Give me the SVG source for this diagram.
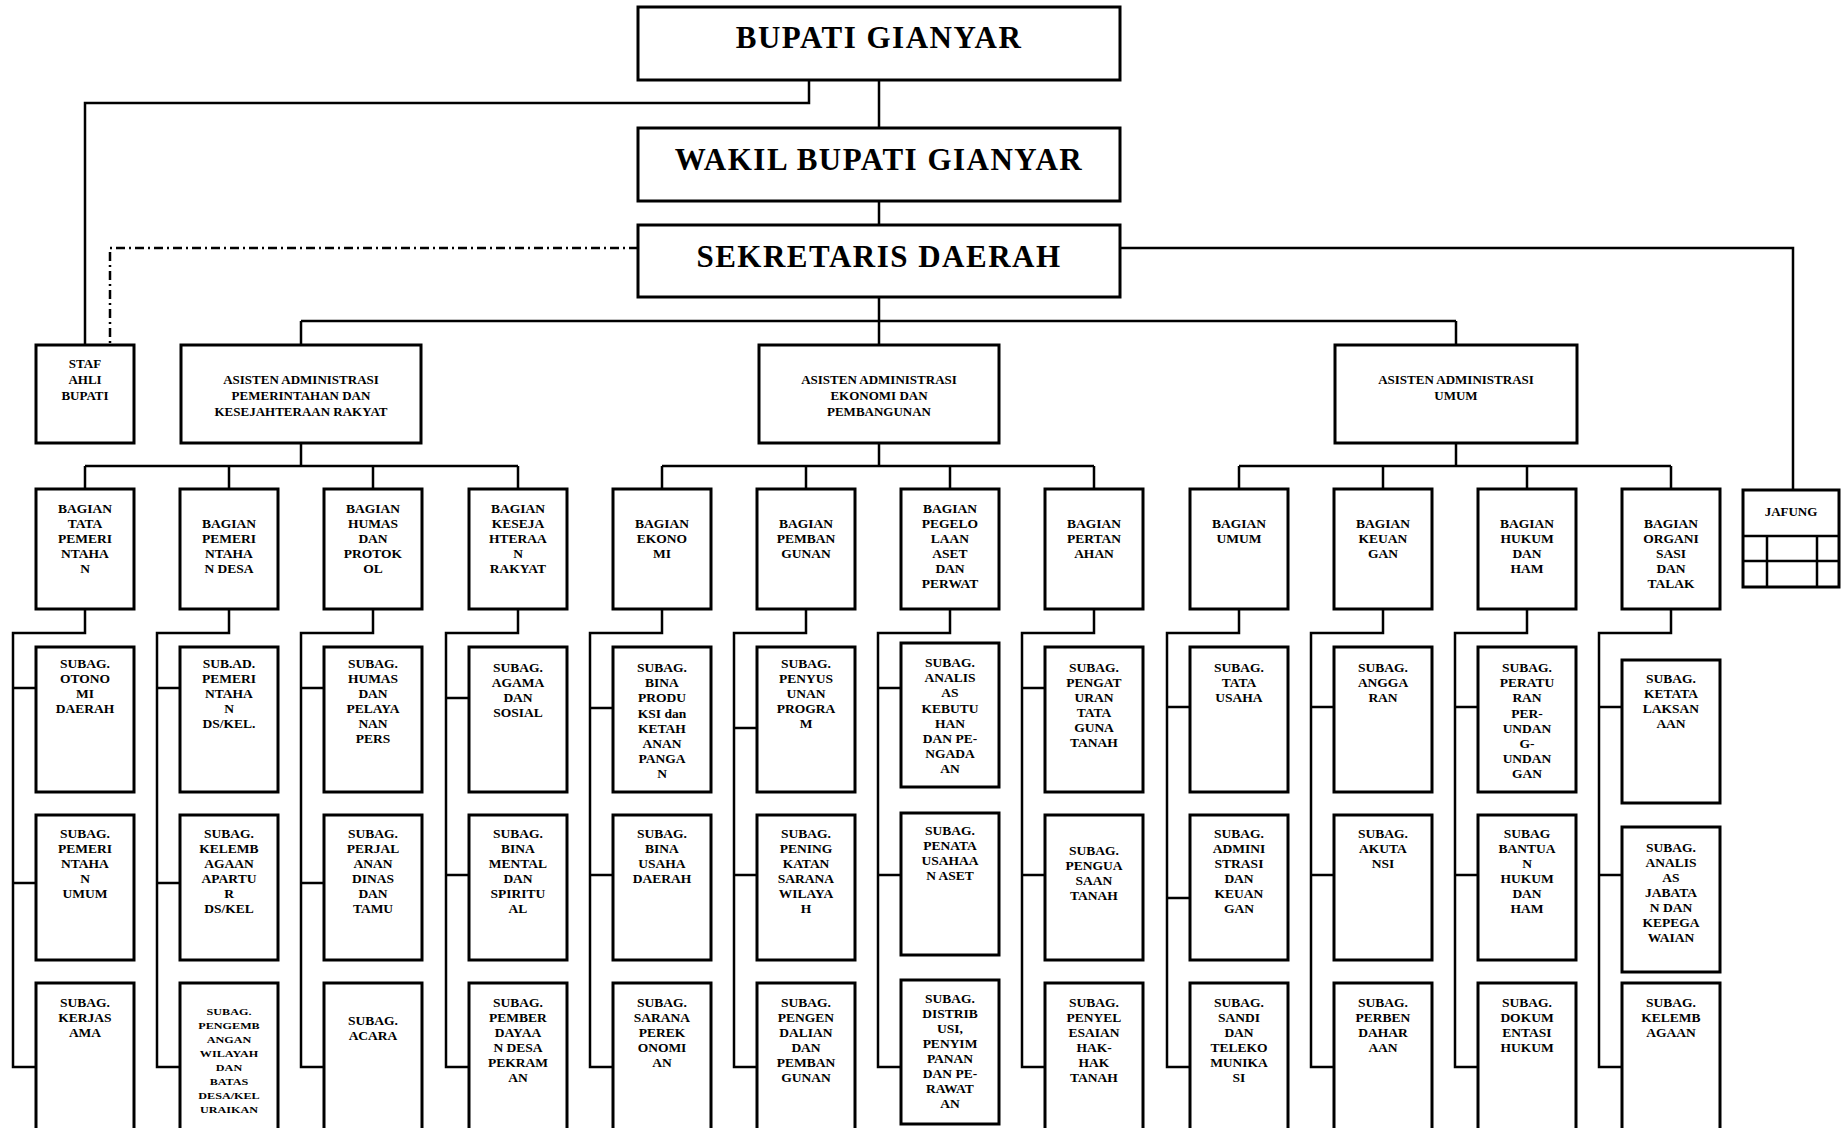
<svg xmlns="http://www.w3.org/2000/svg" width="1841" height="1128" viewBox="0 0 1841 1128">
<style>
.box{fill:#fff;stroke:#000;stroke-width:3}
.ln{fill:none;stroke:#000;stroke-width:2.5}
.dd{fill:none;stroke:#000;stroke-width:2.5;stroke-dasharray:9 4 2 4}
.t{font-family:"Liberation Serif","Times New Roman",serif;font-weight:bold;text-anchor:middle;fill:#000;font-size:13.5px}
.big{font-size:31px;letter-spacing:1.5px}
.s13{font-size:13px}
.sm{font-size:9px}
</style>
<rect width="1841" height="1128" fill="#fff"/>
<g id="connectors">
<path class="ln" d="M879 80V128M879 201V225M879 297V321M301 321H1456M301 321V345M879 321V345M1456 321V345"/>
<path class="ln" d="M809 80V103H85V345"/>
<path class="dd" d="M638 248H110V345"/>
<path class="ln" d="M1120 248H1793V490"/>
<path class="ln" d="M301 443V466M85 466H518M85 466V489M229 466V489M373 466V489M518 466V489"/>
<path class="ln" d="M879 443V466M662 466H1094M662 466V489M806 466V489M950 466V489M1094 466V489"/>
<path class="ln" d="M1456 443V466M1239 466H1671M1239 466V489M1383 466V489M1527 466V489M1671 466V489"/>
<path class="ln" d="M85 609V633H13V1067H36M13 688H36M13 883H36"/>
<path class="ln" d="M229 609V633H157V1067H180M157 688H180M157 883H180"/>
<path class="ln" d="M373 609V633H301V1067H324M301 688H324M301 883H324"/>
<path class="ln" d="M518 609V633H446V1067H469M446 698H469M446 875H469"/>
<path class="ln" d="M662 609V633H590V1067H613M590 708H613M590 875H613"/>
<path class="ln" d="M806 609V633H734V1067H757M734 728H757M734 875H757"/>
<path class="ln" d="M950 609V633H878V1067H901M878 688H901M878 875H901"/>
<path class="ln" d="M1094 609V633H1022V1067H1045M1022 688H1045M1022 875H1045"/>
<path class="ln" d="M1239 609V633H1167V1067H1190M1167 707H1190M1167 898H1190"/>
<path class="ln" d="M1383 609V633H1311V1067H1334M1311 707H1334M1311 875H1334"/>
<path class="ln" d="M1527 609V633H1455V1067H1478M1455 707H1478M1455 875H1478"/>
<path class="ln" d="M1671 609V633H1599V1067H1622M1599 707H1622M1599 875H1622"/>
</g>

<g id="bupati"><rect class="box" x="638" y="7" width="482" height="73"/><text class="t big" x="879" y="48">BUPATI GIANYAR</text></g>
<g id="wakil"><rect class="box" x="638" y="128" width="482" height="73"/><text class="t big" x="879" y="170">WAKIL BUPATI GIANYAR</text></g>
<g id="sekda"><rect class="box" x="638" y="225" width="482" height="72"/><text class="t big" x="879" y="267">SEKRETARIS DAERAH</text></g>

<g id="staf"><rect class="box" x="36" y="345" width="98" height="98"/><text class="t s13" x="85" y="368"><tspan x="85">STAF</tspan><tspan x="85" dy="16">AHLI</tspan><tspan x="85" dy="16">BUPATI</tspan></text></g>
<g id="asisten1"><rect class="box" x="181" y="345" width="240" height="98"/><text class="t s13" x="301" y="384"><tspan x="301">ASISTEN ADMINISTRASI</tspan><tspan x="301" dy="16">PEMERINTAHAN DAN</tspan><tspan x="301" dy="16">KESEJAHTERAAN RAKYAT</tspan></text></g>
<g id="asisten2"><rect class="box" x="759" y="345" width="240" height="98"/><text class="t s13" x="879" y="384"><tspan x="879">ASISTEN ADMINISTRASI</tspan><tspan x="879" dy="16">EKONOMI DAN</tspan><tspan x="879" dy="16">PEMBANGUNAN</tspan></text></g>
<g id="asisten3"><rect class="box" x="1335" y="345" width="242" height="98"/><text class="t s13" x="1456" y="384"><tspan x="1456">ASISTEN ADMINISTRASI</tspan><tspan x="1456" dy="16">UMUM</tspan></text></g>

<g id="jafung"><rect class="box" x="1743" y="490" width="96" height="97"/><path class="ln" d="M1743 536H1839M1743 561H1839M1767 536V587M1817 536V587"/><text class="t s13" x="1791" y="516">JAFUNG</text></g>

<!-- BAGIAN row -->
<g id="bag1"><rect class="box" x="36" y="489" width="98" height="120"/><text class="t" x="85" y="513"><tspan x="85">BAGIAN</tspan><tspan x="85" dy="15">TATA</tspan><tspan x="85" dy="15">PEMERI</tspan><tspan x="85" dy="15">NTAHA</tspan><tspan x="85" dy="15">N</tspan></text></g>
<g id="bag2"><rect class="box" x="180" y="489" width="98" height="120"/><text class="t" x="229" y="528"><tspan x="229">BAGIAN</tspan><tspan x="229" dy="15">PEMERI</tspan><tspan x="229" dy="15">NTAHA</tspan><tspan x="229" dy="15">N DESA</tspan></text></g>
<g id="bag3"><rect class="box" x="324" y="489" width="98" height="120"/><text class="t" x="373" y="513"><tspan x="373">BAGIAN</tspan><tspan x="373" dy="15">HUMAS</tspan><tspan x="373" dy="15">DAN</tspan><tspan x="373" dy="15">PROTOK</tspan><tspan x="373" dy="15">OL</tspan></text></g>
<g id="bag4"><rect class="box" x="469" y="489" width="98" height="120"/><text class="t" x="518" y="513"><tspan x="518">BAGIAN</tspan><tspan x="518" dy="15">KESEJA</tspan><tspan x="518" dy="15">HTERAA</tspan><tspan x="518" dy="15">N</tspan><tspan x="518" dy="15">RAKYAT</tspan></text></g>
<g id="bag5"><rect class="box" x="613" y="489" width="98" height="120"/><text class="t" x="662" y="528"><tspan x="662">BAGIAN</tspan><tspan x="662" dy="15">EKONO</tspan><tspan x="662" dy="15">MI</tspan></text></g>
<g id="bag6"><rect class="box" x="757" y="489" width="98" height="120"/><text class="t" x="806" y="528"><tspan x="806">BAGIAN</tspan><tspan x="806" dy="15">PEMBAN</tspan><tspan x="806" dy="15">GUNAN</tspan></text></g>
<g id="bag7"><rect class="box" x="901" y="489" width="98" height="120"/><text class="t" x="950" y="513"><tspan x="950">BAGIAN</tspan><tspan x="950" dy="15">PEGELO</tspan><tspan x="950" dy="15">LAAN</tspan><tspan x="950" dy="15">ASET</tspan><tspan x="950" dy="15">DAN</tspan><tspan x="950" dy="15">PERWAT</tspan></text></g>
<g id="bag8"><rect class="box" x="1045" y="489" width="98" height="120"/><text class="t" x="1094" y="528"><tspan x="1094">BAGIAN</tspan><tspan x="1094" dy="15">PERTAN</tspan><tspan x="1094" dy="15">AHAN</tspan></text></g>
<g id="bag9"><rect class="box" x="1190" y="489" width="98" height="120"/><text class="t" x="1239" y="528"><tspan x="1239">BAGIAN</tspan><tspan x="1239" dy="15">UMUM</tspan></text></g>
<g id="bag10"><rect class="box" x="1334" y="489" width="98" height="120"/><text class="t" x="1383" y="528"><tspan x="1383">BAGIAN</tspan><tspan x="1383" dy="15">KEUAN</tspan><tspan x="1383" dy="15">GAN</tspan></text></g>
<g id="bag11"><rect class="box" x="1478" y="489" width="98" height="120"/><text class="t" x="1527" y="528"><tspan x="1527">BAGIAN</tspan><tspan x="1527" dy="15">HUKUM</tspan><tspan x="1527" dy="15">DAN</tspan><tspan x="1527" dy="15">HAM</tspan></text></g>
<g id="bag12"><rect class="box" x="1622" y="489" width="98" height="120"/><text class="t" x="1671" y="528"><tspan x="1671">BAGIAN</tspan><tspan x="1671" dy="15">ORGANI</tspan><tspan x="1671" dy="15">SASI</tspan><tspan x="1671" dy="15">DAN</tspan><tspan x="1671" dy="15">TALAK</tspan></text></g>

<!-- SUBAG col 1 -->
<g id="sub1a"><rect class="box" x="36" y="647" width="98" height="145"/><text class="t" x="85" y="668"><tspan x="85">SUBAG.</tspan><tspan x="85" dy="15">OTONO</tspan><tspan x="85" dy="15">MI</tspan><tspan x="85" dy="15">DAERAH</tspan></text></g>
<g id="sub1b"><rect class="box" x="36" y="815" width="98" height="145"/><text class="t" x="85" y="838"><tspan x="85">SUBAG.</tspan><tspan x="85" dy="15">PEMERI</tspan><tspan x="85" dy="15">NTAHA</tspan><tspan x="85" dy="15">N</tspan><tspan x="85" dy="15">UMUM</tspan></text></g>
<g id="sub1c"><rect class="box" x="36" y="983" width="98" height="160"/><text class="t" x="85" y="1007"><tspan x="85">SUBAG.</tspan><tspan x="85" dy="15">KERJAS</tspan><tspan x="85" dy="15">AMA</tspan></text></g>
<!-- col 2 -->
<g id="sub2a"><rect class="box" x="180" y="647" width="98" height="145"/><text class="t" x="229" y="668"><tspan x="229">SUB.AD.</tspan><tspan x="229" dy="15">PEMERI</tspan><tspan x="229" dy="15">NTAHA</tspan><tspan x="229" dy="15">N</tspan><tspan x="229" dy="15">DS/KEL.</tspan></text></g>
<g id="sub2b"><rect class="box" x="180" y="815" width="98" height="145"/><text class="t" x="229" y="838"><tspan x="229">SUBAG.</tspan><tspan x="229" dy="15">KELEMB</tspan><tspan x="229" dy="15">AGAAN</tspan><tspan x="229" dy="15">APARTU</tspan><tspan x="229" dy="15">R</tspan><tspan x="229" dy="15">DS/KEL</tspan></text></g>
<g id="sub2c"><rect class="box" x="180" y="983" width="98" height="160"/><g transform="translate(229 0) scale(1.35 1)"><text class="t sm" x="0" y="1015"><tspan x="0">SUBAG.</tspan><tspan x="0" dy="14">PENGEMB</tspan><tspan x="0" dy="14">ANGAN</tspan><tspan x="0" dy="14">WILAYAH</tspan><tspan x="0" dy="14">DAN</tspan><tspan x="0" dy="14">BATAS</tspan><tspan x="0" dy="14">DESA/KEL</tspan><tspan x="0" dy="14">URAIKAN</tspan></text></g></g>
<!-- col 3 -->
<g id="sub3a"><rect class="box" x="324" y="647" width="98" height="145"/><text class="t" x="373" y="668"><tspan x="373">SUBAG.</tspan><tspan x="373" dy="15">HUMAS</tspan><tspan x="373" dy="15">DAN</tspan><tspan x="373" dy="15">PELAYA</tspan><tspan x="373" dy="15">NAN</tspan><tspan x="373" dy="15">PERS</tspan></text></g>
<g id="sub3b"><rect class="box" x="324" y="815" width="98" height="145"/><text class="t" x="373" y="838"><tspan x="373">SUBAG.</tspan><tspan x="373" dy="15">PERJAL</tspan><tspan x="373" dy="15">ANAN</tspan><tspan x="373" dy="15">DINAS</tspan><tspan x="373" dy="15">DAN</tspan><tspan x="373" dy="15">TAMU</tspan></text></g>
<g id="sub3c"><rect class="box" x="324" y="983" width="98" height="160"/><text class="t" x="373" y="1025"><tspan x="373">SUBAG.</tspan><tspan x="373" dy="15">ACARA</tspan></text></g>
<!-- col 4 -->
<g id="sub4a"><rect class="box" x="469" y="647" width="98" height="145"/><text class="t" x="518" y="672"><tspan x="518">SUBAG.</tspan><tspan x="518" dy="15">AGAMA</tspan><tspan x="518" dy="15">DAN</tspan><tspan x="518" dy="15">SOSIAL</tspan></text></g>
<g id="sub4b"><rect class="box" x="469" y="815" width="98" height="145"/><text class="t" x="518" y="838"><tspan x="518">SUBAG.</tspan><tspan x="518" dy="15">BINA</tspan><tspan x="518" dy="15">MENTAL</tspan><tspan x="518" dy="15">DAN</tspan><tspan x="518" dy="15">SPIRITU</tspan><tspan x="518" dy="15">AL</tspan></text></g>
<g id="sub4c"><rect class="box" x="469" y="983" width="98" height="160"/><text class="t" x="518" y="1007"><tspan x="518">SUBAG.</tspan><tspan x="518" dy="15">PEMBER</tspan><tspan x="518" dy="15">DAYAA</tspan><tspan x="518" dy="15">N DESA</tspan><tspan x="518" dy="15">PEKRAM</tspan><tspan x="518" dy="15">AN</tspan></text></g>
<!-- col 5 -->
<g id="sub5a"><rect class="box" x="613" y="647" width="98" height="145"/><text class="t" x="662" y="672"><tspan x="662">SUBAG.</tspan><tspan x="662" dy="15.2">BINA</tspan><tspan x="662" dy="15.2">PRODU</tspan><tspan x="662" dy="15.2">KSI dan</tspan><tspan x="662" dy="15.2">KETAH</tspan><tspan x="662" dy="15.2">ANAN</tspan><tspan x="662" dy="15.2">PANGA</tspan><tspan x="662" dy="15.2">N</tspan></text></g>
<g id="sub5b"><rect class="box" x="613" y="815" width="98" height="145"/><text class="t" x="662" y="838"><tspan x="662">SUBAG.</tspan><tspan x="662" dy="15">BINA</tspan><tspan x="662" dy="15">USAHA</tspan><tspan x="662" dy="15">DAERAH</tspan></text></g>
<g id="sub5c"><rect class="box" x="613" y="983" width="98" height="160"/><text class="t" x="662" y="1007"><tspan x="662">SUBAG.</tspan><tspan x="662" dy="15">SARANA</tspan><tspan x="662" dy="15">PEREK</tspan><tspan x="662" dy="15">ONOMI</tspan><tspan x="662" dy="15">AN</tspan></text></g>
<!-- col 6 -->
<g id="sub6a"><rect class="box" x="757" y="647" width="98" height="145"/><text class="t" x="806" y="668"><tspan x="806">SUBAG.</tspan><tspan x="806" dy="15">PENYUS</tspan><tspan x="806" dy="15">UNAN</tspan><tspan x="806" dy="15">PROGRA</tspan><tspan x="806" dy="15">M</tspan></text></g>
<g id="sub6b"><rect class="box" x="757" y="815" width="98" height="145"/><text class="t" x="806" y="838"><tspan x="806">SUBAG.</tspan><tspan x="806" dy="15">PENING</tspan><tspan x="806" dy="15">KATAN</tspan><tspan x="806" dy="15">SARANA</tspan><tspan x="806" dy="15">WILAYA</tspan><tspan x="806" dy="15">H</tspan></text></g>
<g id="sub6c"><rect class="box" x="757" y="983" width="98" height="160"/><text class="t" x="806" y="1007"><tspan x="806">SUBAG.</tspan><tspan x="806" dy="15">PENGEN</tspan><tspan x="806" dy="15">DALIAN</tspan><tspan x="806" dy="15">DAN</tspan><tspan x="806" dy="15">PEMBAN</tspan><tspan x="806" dy="15">GUNAN</tspan></text></g>
<!-- col 7 -->
<g id="sub7a"><rect class="box" x="901" y="643" width="98" height="144"/><text class="t" x="950" y="667"><tspan x="950">SUBAG.</tspan><tspan x="950" dy="15.2">ANALIS</tspan><tspan x="950" dy="15.2">AS</tspan><tspan x="950" dy="15.2">KEBUTU</tspan><tspan x="950" dy="15.2">HAN</tspan><tspan x="950" dy="15.2">DAN PE-</tspan><tspan x="950" dy="15.2">NGADA</tspan><tspan x="950" dy="15.2">AN</tspan></text></g>
<g id="sub7b"><rect class="box" x="901" y="813" width="98" height="142"/><text class="t" x="950" y="835"><tspan x="950">SUBAG.</tspan><tspan x="950" dy="15">PENATA</tspan><tspan x="950" dy="15">USAHAA</tspan><tspan x="950" dy="15">N  ASET</tspan></text></g>
<g id="sub7c"><rect class="box" x="901" y="980" width="98" height="144"/><text class="t" x="950" y="1003"><tspan x="950">SUBAG.</tspan><tspan x="950" dy="15">DISTRIB</tspan><tspan x="950" dy="15">USI,</tspan><tspan x="950" dy="15">PENYIM</tspan><tspan x="950" dy="15">PANAN</tspan><tspan x="950" dy="15">DAN PE-</tspan><tspan x="950" dy="15">RAWAT</tspan><tspan x="950" dy="15">AN</tspan></text></g>
<!-- col 8 -->
<g id="sub8a"><rect class="box" x="1045" y="647" width="98" height="145"/><text class="t" x="1094" y="672"><tspan x="1094">SUBAG.</tspan><tspan x="1094" dy="15">PENGAT</tspan><tspan x="1094" dy="15">URAN</tspan><tspan x="1094" dy="15">TATA</tspan><tspan x="1094" dy="15">GUNA</tspan><tspan x="1094" dy="15">TANAH</tspan></text></g>
<g id="sub8b"><rect class="box" x="1045" y="815" width="98" height="145"/><text class="t" x="1094" y="855"><tspan x="1094">SUBAG.</tspan><tspan x="1094" dy="15">PENGUA</tspan><tspan x="1094" dy="15">SAAN</tspan><tspan x="1094" dy="15">TANAH</tspan></text></g>
<g id="sub8c"><rect class="box" x="1045" y="983" width="98" height="160"/><text class="t" x="1094" y="1007"><tspan x="1094">SUBAG.</tspan><tspan x="1094" dy="15">PENYEL</tspan><tspan x="1094" dy="15">ESAIAN</tspan><tspan x="1094" dy="15">HAK-</tspan><tspan x="1094" dy="15">HAK</tspan><tspan x="1094" dy="15">TANAH</tspan></text></g>
<!-- col 9 -->
<g id="sub9a"><rect class="box" x="1190" y="647" width="98" height="145"/><text class="t" x="1239" y="672"><tspan x="1239">SUBAG.</tspan><tspan x="1239" dy="15">TATA</tspan><tspan x="1239" dy="15">USAHA</tspan></text></g>
<g id="sub9b"><rect class="box" x="1190" y="815" width="98" height="145"/><text class="t" x="1239" y="838"><tspan x="1239">SUBAG.</tspan><tspan x="1239" dy="15">ADMINI</tspan><tspan x="1239" dy="15">STRASI</tspan><tspan x="1239" dy="15">DAN</tspan><tspan x="1239" dy="15">KEUAN</tspan><tspan x="1239" dy="15">GAN</tspan></text></g>
<g id="sub9c"><rect class="box" x="1190" y="983" width="98" height="160"/><text class="t" x="1239" y="1007"><tspan x="1239">SUBAG.</tspan><tspan x="1239" dy="15">SANDI</tspan><tspan x="1239" dy="15">DAN</tspan><tspan x="1239" dy="15">TELEKO</tspan><tspan x="1239" dy="15">MUNIKA</tspan><tspan x="1239" dy="15">SI</tspan></text></g>
<!-- col 10 -->
<g id="sub10a"><rect class="box" x="1334" y="647" width="98" height="145"/><text class="t" x="1383" y="672"><tspan x="1383">SUBAG.</tspan><tspan x="1383" dy="15">ANGGA</tspan><tspan x="1383" dy="15">RAN</tspan></text></g>
<g id="sub10b"><rect class="box" x="1334" y="815" width="98" height="145"/><text class="t" x="1383" y="838"><tspan x="1383">SUBAG.</tspan><tspan x="1383" dy="15">AKUTA</tspan><tspan x="1383" dy="15">NSI</tspan></text></g>
<g id="sub10c"><rect class="box" x="1334" y="983" width="98" height="160"/><text class="t" x="1383" y="1007"><tspan x="1383">SUBAG.</tspan><tspan x="1383" dy="15">PERBEN</tspan><tspan x="1383" dy="15">DAHAR</tspan><tspan x="1383" dy="15">AAN</tspan></text></g>
<!-- col 11 -->
<g id="sub11a"><rect class="box" x="1478" y="647" width="98" height="145"/><text class="t" x="1527" y="672"><tspan x="1527">SUBAG.</tspan><tspan x="1527" dy="15.2">PERATU</tspan><tspan x="1527" dy="15.2">RAN</tspan><tspan x="1527" dy="15.2">PER-</tspan><tspan x="1527" dy="15.2">UNDAN</tspan><tspan x="1527" dy="15.2">G-</tspan><tspan x="1527" dy="15.2">UNDAN</tspan><tspan x="1527" dy="15.2">GAN</tspan></text></g>
<g id="sub11b"><rect class="box" x="1478" y="815" width="98" height="145"/><text class="t" x="1527" y="838"><tspan x="1527">SUBAG</tspan><tspan x="1527" dy="15">BANTUA</tspan><tspan x="1527" dy="15">N</tspan><tspan x="1527" dy="15">HUKUM</tspan><tspan x="1527" dy="15">DAN</tspan><tspan x="1527" dy="15">HAM</tspan></text></g>
<g id="sub11c"><rect class="box" x="1478" y="983" width="98" height="160"/><text class="t" x="1527" y="1007"><tspan x="1527">SUBAG.</tspan><tspan x="1527" dy="15">DOKUM</tspan><tspan x="1527" dy="15">ENTASI</tspan><tspan x="1527" dy="15">HUKUM</tspan></text></g>
<!-- col 12 -->
<g id="sub12a"><rect class="box" x="1622" y="660" width="98" height="143"/><text class="t" x="1671" y="683"><tspan x="1671">SUBAG.</tspan><tspan x="1671" dy="15">KETATA</tspan><tspan x="1671" dy="15">LAKSAN</tspan><tspan x="1671" dy="15">AAN</tspan></text></g>
<g id="sub12b"><rect class="box" x="1622" y="827" width="98" height="145"/><text class="t" x="1671" y="852"><tspan x="1671">SUBAG.</tspan><tspan x="1671" dy="15">ANALIS</tspan><tspan x="1671" dy="15">AS</tspan><tspan x="1671" dy="15">JABATA</tspan><tspan x="1671" dy="15">N DAN</tspan><tspan x="1671" dy="15">KEPEGA</tspan><tspan x="1671" dy="15">WAIAN</tspan></text></g>
<g id="sub12c"><rect class="box" x="1622" y="983" width="98" height="160"/><text class="t" x="1671" y="1007"><tspan x="1671">SUBAG.</tspan><tspan x="1671" dy="15">KELEMB</tspan><tspan x="1671" dy="15">AGAAN</tspan></text></g>
</svg>
